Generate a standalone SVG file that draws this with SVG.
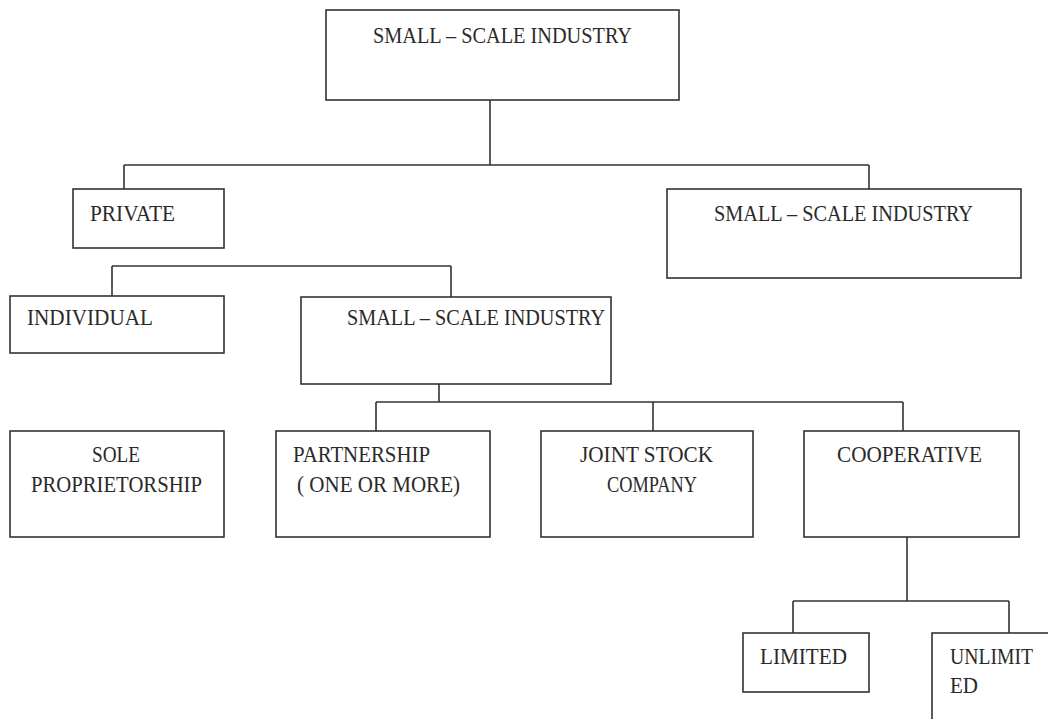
<svg xmlns="http://www.w3.org/2000/svg" width="1048" height="719" viewBox="0 0 1048 719">
<style>
rect{fill:#fff;stroke:#333;stroke-width:1.6}
.c line{stroke:#333;stroke-width:1.6}
text{font-size:22.5px;fill:#2a2a2a}
</style>
<rect x="0" y="0" width="1048" height="719" style="stroke:none"/>
<g class="c" id="connectors">
<line x1="490" y1="100" x2="490" y2="165"/>
<line x1="124" y1="165" x2="869" y2="165"/>
<line x1="124" y1="165" x2="124" y2="189"/>
<line x1="869" y1="165" x2="869" y2="189"/>
<line x1="112" y1="266" x2="451" y2="266"/>
<line x1="112" y1="266" x2="112" y2="296"/>
<line x1="451" y1="266" x2="451" y2="297"/>
<line x1="439" y1="384" x2="439" y2="402"/>
<line x1="376" y1="402" x2="903" y2="402"/>
<line x1="376" y1="402" x2="376" y2="431"/>
<line x1="653" y1="402" x2="653" y2="431"/>
<line x1="903" y1="402" x2="903" y2="431"/>
<line x1="907" y1="537" x2="907" y2="601"/>
<line x1="793" y1="601" x2="1009" y2="601"/>
<line x1="793" y1="601" x2="793" y2="633"/>
<line x1="1009" y1="601" x2="1009" y2="633"/>
</g>
<g font-family="Liberation Serif, DejaVu Serif, serif">
<g id="n-top"><rect x="326" y="10" width="353" height="90"/><text x="373" y="43" textLength="259" lengthAdjust="spacingAndGlyphs">SMALL – SCALE INDUSTRY</text></g>
<g id="n-private"><rect x="73" y="189" width="151" height="59"/><text x="90" y="221" textLength="85" lengthAdjust="spacingAndGlyphs">PRIVATE</text></g>
<g id="n-right"><rect x="667" y="189" width="354" height="89"/><text x="714" y="221" textLength="259" lengthAdjust="spacingAndGlyphs">SMALL – SCALE INDUSTRY</text></g>
<g id="n-individual"><rect x="10" y="296" width="214" height="57"/><text x="27" y="325" textLength="126" lengthAdjust="spacingAndGlyphs">INDIVIDUAL</text></g>
<g id="n-middle"><rect x="301" y="297" width="310" height="87"/><text x="347" y="325" textLength="258" lengthAdjust="spacingAndGlyphs">SMALL – SCALE INDUSTRY</text></g>
<g id="n-sole"><rect x="10" y="431" width="214" height="106"/><text x="92" y="462" textLength="48" lengthAdjust="spacingAndGlyphs">SOLE</text><text x="31" y="492" textLength="171" lengthAdjust="spacingAndGlyphs">PROPRIETORSHIP</text></g>
<g id="n-partnership"><rect x="276" y="431" width="214" height="106"/><text x="293" y="462" textLength="137" lengthAdjust="spacingAndGlyphs">PARTNERSHIP</text><text x="297" y="492" textLength="163" lengthAdjust="spacingAndGlyphs">( ONE OR MORE)</text></g>
<g id="n-joint"><rect x="541" y="431" width="212" height="106"/><text x="580" y="462" textLength="133" lengthAdjust="spacingAndGlyphs">JOINT STOCK</text><text x="607" y="492" textLength="90" lengthAdjust="spacingAndGlyphs">COMPANY</text></g>
<g id="n-coop"><rect x="804" y="431" width="215" height="106"/><text x="837" y="462" textLength="145" lengthAdjust="spacingAndGlyphs">COOPERATIVE</text></g>
<g id="n-limited"><rect x="743" y="633" width="126" height="59"/><text x="760" y="664" textLength="87" lengthAdjust="spacingAndGlyphs">LIMITED</text></g>
<g id="n-unlimited"><rect x="932" y="633" width="140" height="100"/><text x="950" y="664" textLength="83" lengthAdjust="spacingAndGlyphs">UNLIMIT</text><text x="950" y="693" textLength="28" lengthAdjust="spacingAndGlyphs">ED</text></g>
</g>
</svg>
